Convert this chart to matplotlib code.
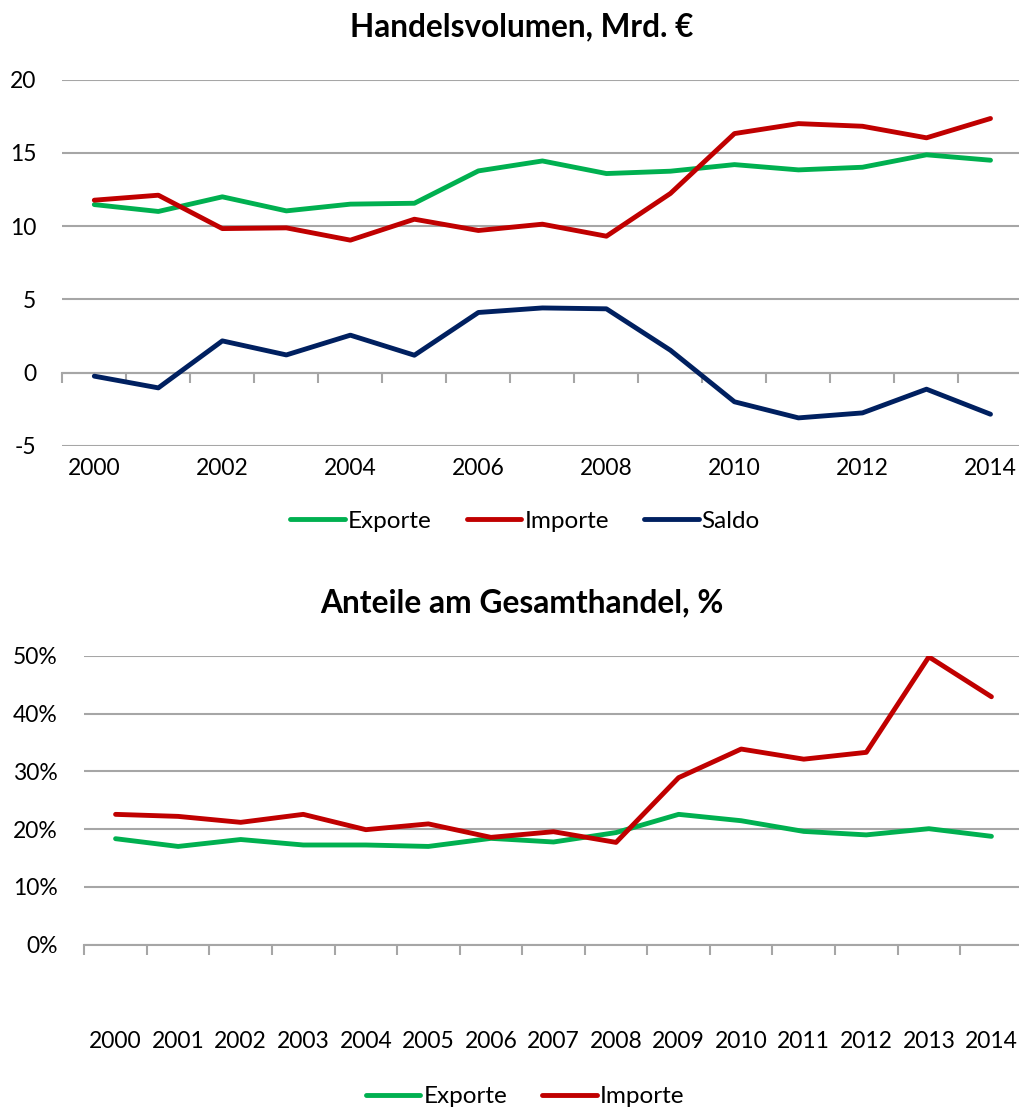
import matplotlib
matplotlib.use("Agg")
import matplotlib.pyplot as plt
import numpy as np
from matplotlib.ticker import FuncFormatter, FixedLocator

plt.rcParams['font.family'] = ['Lato', 'DejaVu Sans']

years = [str(y) for y in range(2000, 2015)]

# Handelsvolumen, Mrd. €
exporte = [11.47, 11.0, 12.0, 11.04, 11.5, 11.56, 13.77, 14.45, 13.59, 13.75, 14.2, 13.84, 14.02, 14.87, 14.5]
importe = [11.77, 12.11, 9.83, 9.88, 9.04, 10.47, 9.7, 10.13, 9.31, 12.23, 16.32, 17.0, 16.82, 16.03, 17.35]
saldo = [-0.25, -1.05, 2.16, 1.2, 2.55, 1.18, 4.1, 4.41, 4.35, 1.52, -2.0, -3.1, -2.76, -1.14, -2.85]

# Anteile am Gesamthandel, %
exporte_pct = [18.34, 17.0, 18.2, 17.25, 17.25, 17.0, 18.4, 17.77, 19.4, 22.55, 21.45, 19.6, 19.0, 20.07, 18.75]
importe_pct = [22.55, 22.2, 21.17, 22.55, 19.9, 20.9, 18.57, 19.55, 17.7, 28.9, 33.85, 32.1, 33.28, 49.8, 42.9]

GREEN = '#00B050'
RED = '#C00000'
NAVY = '#002060'
GRID = '#A6A6A6'
LW = 3.5
TFS = 16.5
LFS = 17.5

W, H = 1019, 1109
fig = plt.figure(figsize=(W / 100, H / 100), dpi=100)

x = np.arange(len(years))

# ---------- top chart ----------
l1, r1, t1, b1 = 62.3, 1022.5, 79.7, 445.7
ax1 = fig.add_axes([l1 / W, 1 - b1 / H, (r1 - l1) / W, (b1 - t1) / H])
ax1.plot(x, exporte, color=GREEN, lw=LW, solid_capstyle='round', solid_joinstyle='round', label='Exporte', zorder=3)
ax1.plot(x, importe, color=RED, lw=LW, solid_capstyle='round', solid_joinstyle='round', label='Importe', zorder=3)
ax1.plot(x, saldo, color=NAVY, lw=LW, solid_capstyle='round', solid_joinstyle='round', label='Saldo', zorder=3)
ax1.set_xlim(-0.5, len(years) - 0.5)
ax1.set_ylim(-5, 20)
ax1.set_yticks([-5, 0, 5, 10, 15, 20])
ax1.yaxis.set_major_formatter(FuncFormatter(lambda v, p: f'{int(round(v))}'))
ax1.yaxis.grid(True, color=GRID, lw=1.5)
ax1.set_axisbelow(True)
for s in ax1.spines.values():
    s.set_visible(False)
ax1.tick_params(axis='y', length=0, pad=18.7, labelsize=TFS, colors='black')
ax1.set_xticks(x[::2])
ax1.set_xticklabels(years[::2])
ax1.tick_params(axis='x', length=0, pad=9, labelsize=TFS)
# category axis crossing at 0
sec = ax1.secondary_xaxis((0 - (-5)) / 25)
sec.spines['bottom'].set_color(GRID)
sec.spines['bottom'].set_linewidth(1.5)
sec.set_xticks(np.arange(-0.5, len(years), 1.0))
sec.set_xticklabels([])
sec.tick_params(axis='x', direction='out', length=7, width=1.5, color=GRID)
fig.text(522 / W, 1 - 27 / H, 'Handelsvolumen, Mrd. €', fontsize=22.7, fontweight='bold',
         ha='center', va='center')
ax1.legend(loc='center', bbox_to_anchor=(525 / W, 1 - 521 / H), bbox_transform=fig.transFigure,
           ncol=3, frameon=False, fontsize=LFS, handlelength=2.25, handletextpad=0.12,
           columnspacing=1.45, borderaxespad=0, borderpad=0)

# ---------- bottom chart ----------
l2, r2, t2, b2 = 84.3, 1022.7, 655.7, 944.7
ax2 = fig.add_axes([l2 / W, 1 - b2 / H, (r2 - l2) / W, (b2 - t2) / H])
ax2.plot(x, exporte_pct, color=GREEN, lw=LW, solid_capstyle='round', solid_joinstyle='round', label='Exporte', zorder=3)
ax2.plot(x, importe_pct, color=RED, lw=LW, solid_capstyle='round', solid_joinstyle='round', label='Importe', zorder=3)
ax2.set_xlim(-0.5, len(years) - 0.5)
ax2.set_ylim(0, 50)
ax2.set_yticks([0, 10, 20, 30, 40, 50])
ax2.yaxis.set_major_formatter(FuncFormatter(lambda v, p: f'{int(round(v))}%'))
ax2.yaxis.grid(True, color=GRID, lw=1.5)
ax2.set_axisbelow(True)
for k in ['top', 'right', 'left']:
    ax2.spines[k].set_visible(False)
ax2.spines['bottom'].set_color(GRID)
ax2.spines['bottom'].set_linewidth(1.5)
ax2.tick_params(axis='y', length=0, pad=19, labelsize=TFS)
ax2.set_xticks(x)
ax2.set_xticklabels(years)
ax2.xaxis.set_minor_locator(FixedLocator(np.arange(-0.5, len(years), 1.0)))
ax2.tick_params(axis='x', which='major', length=0, pad=62, labelsize=TFS)
ax2.tick_params(axis='x', which='minor', direction='out', length=7, width=1.5, color=GRID)
fig.text(522 / W, 1 - 603 / H, 'Anteile am Gesamthandel, %', fontsize=22.9, fontweight='bold',
         ha='center', va='center')
ax2.legend(loc='center', bbox_to_anchor=(525 / W, 1 - 1096.7 / H), bbox_transform=fig.transFigure,
           ncol=2, frameon=False, fontsize=LFS, handlelength=2.25, handletextpad=0.12,
           columnspacing=1.45, borderaxespad=0, borderpad=0)

fig.savefig('out.png', dpi=100)
